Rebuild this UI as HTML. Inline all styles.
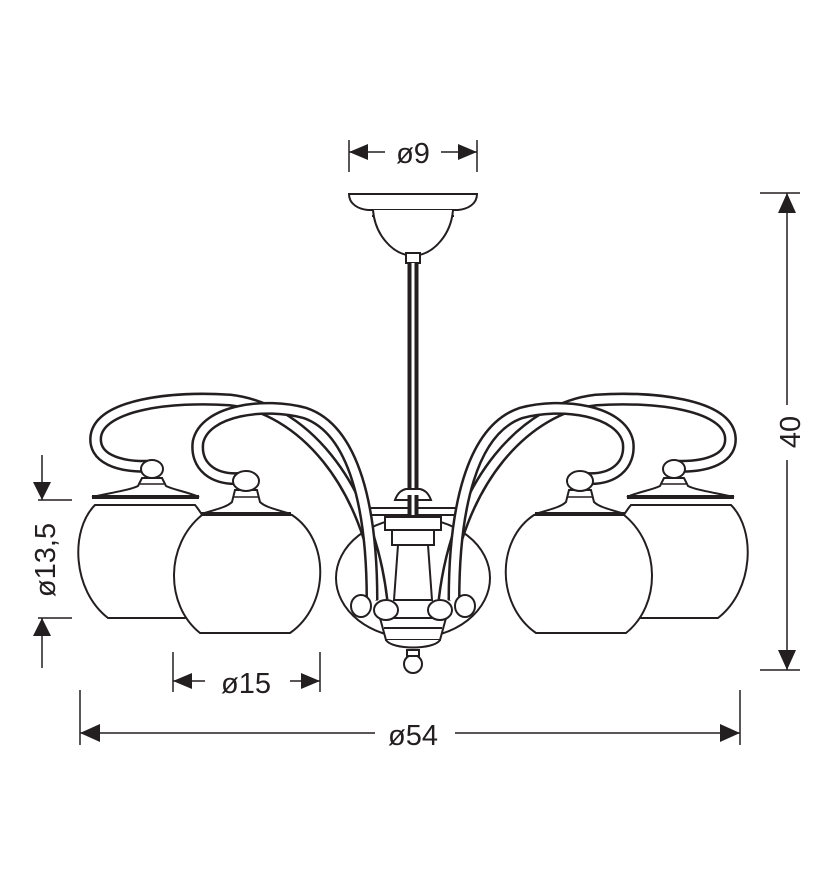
<!DOCTYPE html>
<html><head><meta charset="utf-8"><style>
html,body{margin:0;padding:0;background:#fff;width:828px;height:886px;overflow:hidden}
svg{display:block}
text{font-family:"Liberation Sans",sans-serif;fill:#231f20}
</style></head><body>
<svg width="828" height="886" viewBox="0 0 828 886" xmlns="http://www.w3.org/2000/svg">
<defs>
<g id="half" fill="none" stroke-linecap="butt">
  <!-- back arm -->
  <path d="M153,466 C118,468 92,458 96,435 C102,405 170,396 230,400 C300,408 368,480 382,600" stroke="#231f20" stroke-width="13"/>
  <path d="M153,466 C118,468 92,458 96,435 C102,405 170,396 230,400 C300,408 368,480 382,600" stroke="#fff" stroke-width="8"/>
  <!-- back globe -->
  <path d="M108,618 L185,618 C215,600 225,540 195,505 L95,505 C70,530 72,590 108,618 Z" fill="#fff" stroke="#231f20" stroke-width="2"/>
  <path d="M92,497 C115,492 130,490 138,486 L142,478 L162,478 L166,486 C174,490 188,492 199,497 Z" fill="#fff" stroke="#231f20" stroke-width="2"/>
  <line x1="92" y1="497" x2="199" y2="497" stroke="#231f20" stroke-width="4"/>
  <line x1="140" y1="484" x2="164" y2="484" stroke="#231f20" stroke-width="1.5"/>
  <ellipse cx="152" cy="469" rx="11" ry="9" fill="#fff" stroke="#231f20" stroke-width="2"/>
  <!-- front arm -->
  <path d="M245,478 C212,482 195,465 198,442 C205,410 265,402 305,413 C355,430 372,510 372,600" stroke="#231f20" stroke-width="13"/>
  <path d="M245,478 C212,482 195,465 198,442 C205,410 265,402 305,413 C355,430 372,510 372,600" stroke="#fff" stroke-width="8"/>
  <!-- front globe -->
  <path d="M200,633 L290,633 C330,605 330,540 292,515 L202,515 C165,545 165,605 200,633 Z" fill="#fff" stroke="#231f20" stroke-width="2"/>
  <path d="M201,514 C222,508 228,506 232,502 L235,490 L257,490 L260,502 C264,506 270,508 291,514 Z" fill="#fff" stroke="#231f20" stroke-width="2"/>
  <line x1="201" y1="514" x2="291" y2="514" stroke="#231f20" stroke-width="4"/>
  <line x1="234" y1="497" x2="258" y2="497" stroke="#231f20" stroke-width="1.5"/>
  <ellipse cx="246" cy="481" rx="13" ry="10" fill="#fff" stroke="#231f20" stroke-width="2"/>
</g>
</defs>

<!-- canopy -->
<g fill="#fff" stroke="#231f20" stroke-width="2">
  <path d="M349,194 L477,194 C477,204 468,209 458,210 L368,210 C358,209 349,204 349,194 Z"/>
  <line x1="372" y1="216" x2="454" y2="216"/>
  <path d="M373,210 C375,235 392,252 407,255 L419,255 C434,252 451,235 453,210"/>
  <rect x="406" y="253" width="14" height="10"/>
</g>
<rect x="407.5" y="263" width="11" height="240" fill="#231f20"/>
<rect x="411.5" y="263" width="3" height="240" fill="#fff"/>

<!-- center back bowl -->
<ellipse cx="413" cy="578" rx="77" ry="60" fill="#fff" stroke="#231f20" stroke-width="2"/>
<g fill="#fff" stroke="#231f20" stroke-width="2">
  <path d="M368,508 L458,508 L458,515 L368,515 Z"/>
  <path d="M395,500 C398,492 402,490 406,489 L420,489 C424,490 428,492 431,500 Z"/>
  <path d="M385,517 L441,517 L441,530 L385,530 Z"/>
  <path d="M392,530 L434,530 L434,545 L392,545 Z"/>
  <path d="M398,545 L428,545 L432,600 L394,600 Z"/>
  <path d="M380,618 L446,618 L440,640 L386,640 Z"/>
  <line x1="384" y1="628" x2="442" y2="628"/>
  <circle cx="413" cy="664" r="9"/>
  <rect x="407" y="650" width="12" height="6"/>
  <path d="M386,640 C392,650 434,650 440,640"/>
</g>
<rect x="407.5" y="495" width="11" height="20" fill="#231f20"/>
<rect x="411.5" y="495" width="3" height="20" fill="#fff"/>

<use href="#half"/>
<use href="#half" transform="translate(826,0) scale(-1,1)"/>

<!-- knobs -->
<g fill="#fff" stroke="#231f20" stroke-width="2">
  <ellipse cx="361" cy="606" rx="10" ry="11"/>
  <ellipse cx="386" cy="610" rx="12" ry="10"/>
  <ellipse cx="440" cy="610" rx="12" ry="10"/>
  <ellipse cx="465" cy="606" rx="10" ry="11"/>
</g>

<!-- dimensions -->
<g stroke="#231f20" stroke-width="1.5" fill="none">
  <line x1="349" y1="140" x2="349" y2="172"/>
  <line x1="477" y1="140" x2="477" y2="172"/>
  <line x1="349" y1="152" x2="385" y2="152"/>
  <line x1="441" y1="152" x2="477" y2="152"/>
  <line x1="760" y1="193" x2="800" y2="193"/>
  <line x1="760" y1="670" x2="800" y2="670"/>
  <line x1="787" y1="193" x2="787" y2="405"/>
  <line x1="787" y1="460" x2="787" y2="670"/>
  <line x1="38" y1="500" x2="72" y2="500"/>
  <line x1="38" y1="618" x2="72" y2="618"/>
  <line x1="42" y1="455" x2="42" y2="500"/>
  <line x1="42" y1="618" x2="42" y2="668"/>
  <line x1="173" y1="652" x2="173" y2="692"/>
  <line x1="320" y1="652" x2="320" y2="692"/>
  <line x1="173" y1="681" x2="205" y2="681"/>
  <line x1="290" y1="681" x2="320" y2="681"/>
  <line x1="80" y1="690" x2="80" y2="745"/>
  <line x1="740" y1="690" x2="740" y2="745"/>
  <line x1="80" y1="733" x2="375" y2="733"/>
  <line x1="455" y1="733" x2="740" y2="733"/>
</g>
<g fill="#231f20">
  <polygon points="349,152 368,144 368,160"/>
  <polygon points="477,152 458,144 458,160"/>
  <polygon points="787,193 778,213 796,213"/>
  <polygon points="787,670 778,650 796,650"/>
  <polygon points="42,500 33,482 51,482"/>
  <polygon points="42,618 33,636 51,636"/>
  <polygon points="173,681 192,673 192,689"/>
  <polygon points="320,681 301,673 301,689"/>
  <polygon points="80,733 100,724 100,742"/>
  <polygon points="740,733 720,724 720,742"/>
</g>
<text x="413" y="163" font-size="29" text-anchor="middle">ø9</text>
<text x="246" y="693" font-size="29" text-anchor="middle">ø15</text>
<text x="413" y="745" font-size="29" text-anchor="middle">ø54</text>
<text transform="translate(800,432) rotate(-90)" font-size="29" text-anchor="middle">40</text>
<text transform="translate(55,560) rotate(-90)" font-size="29" text-anchor="middle">ø13,5</text>
</svg>
</body></html>
